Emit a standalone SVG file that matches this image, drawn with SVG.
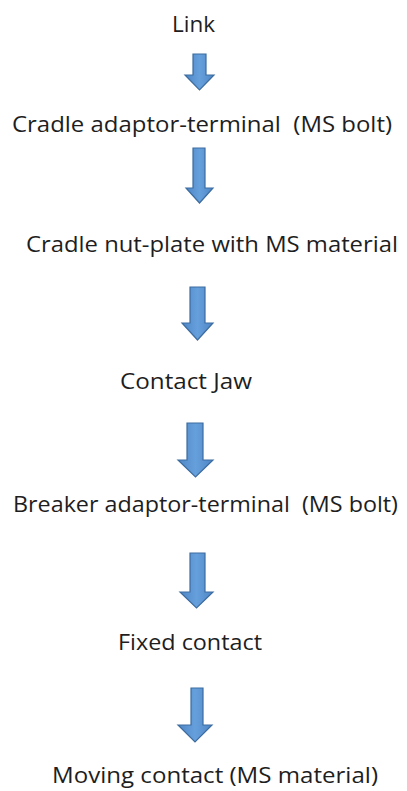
<svg xmlns="http://www.w3.org/2000/svg" width="407" height="791" viewBox="0 0 407 791">
  <style>
    .lbl { font-family: "Open Sans", "Liberation Sans", sans-serif; font-size: 21px; fill: #1e1e1e; }
    .arr { fill: url(#ag); stroke: #3d6c9f; stroke-width: 1.2; stroke-linejoin: miter; }
  </style>
  <defs>
    <linearGradient id="ag" x1="0" y1="0" x2="1" y2="0">
      <stop offset="0" stop-color="#4f86c6"/>
      <stop offset="0.5" stop-color="#66a0dc"/>
      <stop offset="1" stop-color="#4f86c6"/>
    </linearGradient>
  </defs>
  <rect width="407" height="791" fill="#ffffff"/>

  <g id="n1"><text class="lbl" x="172" y="32" textLength="43" lengthAdjust="spacingAndGlyphs">Link</text></g>
  <g id="n2"><text class="lbl" x="12" y="132" textLength="380" lengthAdjust="spacingAndGlyphs" xml:space="preserve">Cradle adaptor-terminal  (MS bolt)</text></g>
  <g id="n3"><text class="lbl" x="26" y="252" textLength="372" lengthAdjust="spacingAndGlyphs">Cradle nut-plate with MS material</text></g>
  <g id="n4"><text class="lbl" x="120" y="389" textLength="132" lengthAdjust="spacingAndGlyphs">Contact Jaw</text></g>
  <g id="n5"><text class="lbl" x="13" y="512" textLength="385" lengthAdjust="spacingAndGlyphs" xml:space="preserve">Breaker adaptor-terminal  (MS bolt)</text></g>
  <g id="n6"><text class="lbl" x="118" y="650" textLength="144" lengthAdjust="spacingAndGlyphs">Fixed contact</text></g>
  <g id="n7"><text class="lbl" x="52" y="783" textLength="326" lengthAdjust="spacingAndGlyphs">Moving contact (MS material)</text></g>

  <g id="connectors">
    <polygon class="arr" points="193,54 206,54 206,75 214,75 199.5,90 185,75 193,75"/>
    <polygon class="arr" points="193,148 205,148 205,188 213,188 199.5,203 186,188 193,188"/>
    <polygon class="arr" points="190,287 205,287 205,323 213,323 197.5,340 182,323 190,323"/>
    <polygon class="arr" points="187,423 203,423 203,460 213,460 195.5,477 178,460 187,460"/>
    <polygon class="arr" points="190,553 205,553 205,592 213,592 196.5,608 180,592 190,592"/>
    <polygon class="arr" points="191,688 203,688 203,725 212,725 195,742 178,725 191,725"/>
  </g>
</svg>
